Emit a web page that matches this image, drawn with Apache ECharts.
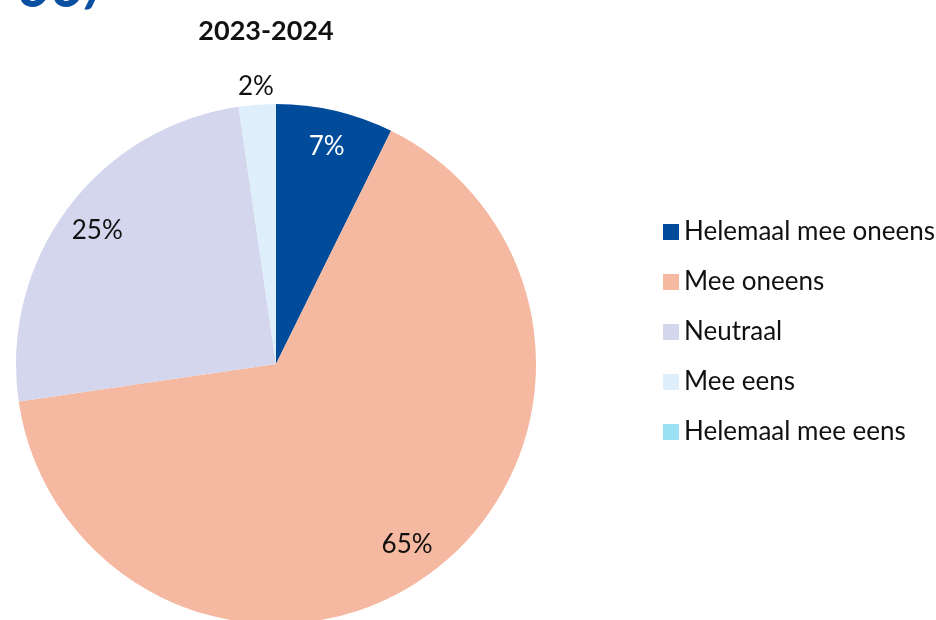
<!DOCTYPE html>
<html>
<head>
<meta charset="utf-8">
<script src="https://cdn.jsdelivr.net/npm/echarts@6/dist/echarts.min.js"></script>
<style>
html,body{margin:0;padding:0;background:#fff;}
#chart{width:936px;height:620px;}
</style>
</head>
<body>
<div id="chart"></div>
<script>
const title = '2023-2024';
const categories = ['Helemaal mee oneens', 'Mee oneens', 'Neutraal', 'Mee eens', 'Helemaal mee eens'];
const values = [7.3, 65.4, 25.0, 2.3, 0];
const colors = ['#004c9b', '#f5b8a0', '#d3d6ec', '#deeefa', '#9be0f3'];
const insideLabelIdx = [0, 1, 2];
const outsideLabelIdx = [3];

const chart = echarts.init(document.getElementById('chart'));
const FONT = 'Lato';
const center = [276, 364];
const pctFmt = p => Math.round(p.value) + '%';

function data(showIdx, transparent) {
  return categories.map((c, i) => ({
    name: c,
    value: values[i],
    itemStyle: transparent ? { color: 'rgba(0,0,0,0)' } : { color: colors[i] },
    label: { show: showIdx.indexOf(i) >= 0 }
  }));
}

chart.setOption({
  animation: false,
  color: colors,
  title: {
    text: title,
    left: 261,
    textAlign: 'center',
    top: 13,
    textStyle: { fontFamily: FONT, fontWeight: 'bold', fontSize: 27, color: '#111' }
  },
  graphic: [{
    type: 'text',
    left: -4,
    top: -46,
    style: { text: '-oo/', fill: '#0a4fa0', font: 'italic bold 64px ' + FONT }
  }],
  legend: {
    orient: 'vertical',
    left: 658,
    top: 214,
    itemWidth: 16,
    itemHeight: 16,
    itemGap: 24,
    icon: 'rect',
    data: categories,
    textStyle: { fontFamily: FONT, fontSize: 26, color: '#111', lineHeight: 26 }
  },
  series: [
    {
      type: 'pie',
      center: center,
      radius: [0, 260],
      startAngle: 90,
      clockwise: true,
      silent: true,
      label: { show: false },
      labelLine: { show: false },
      data: data([], false)
    },
    {
      type: 'pie',
      center: center,
      radius: [180, 260],
      startAngle: 90,
      clockwise: true,
      silent: true,
      legendHoverLink: false,
      label: { show: true, position: 'inside', formatter: pctFmt, fontFamily: FONT, fontSize: 26, color: '#111' },
      labelLine: { show: false },
      data: data(insideLabelIdx, true).map((d, i) => i === 0 ? Object.assign(d, { label: { show: true, color: '#fff' } }) : d)
    },
    {
      type: 'pie',
      center: center,
      radius: [254, 296],
      startAngle: 90,
      clockwise: true,
      silent: true,
      label: { show: true, position: 'inside', formatter: pctFmt, fontFamily: FONT, fontSize: 26, color: '#111' },
      labelLine: { show: false },
      data: data(outsideLabelIdx, true)
    }
  ]
});
</script>
</body>
</html>
